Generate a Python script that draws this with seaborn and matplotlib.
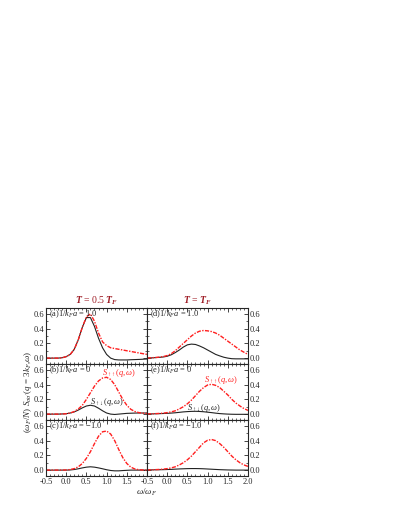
import numpy as np
import pandas as pd
import matplotlib
matplotlib.use("Agg")
import matplotlib.pyplot as plt
import seaborn as sns
from matplotlib.ticker import MultipleLocator

# frequency grid (omega / omega_F)
omega = [-0.5, -0.4, -0.3, -0.2, -0.1, 0.0, 0.1, 0.2, 0.3, 0.4, 0.5, 0.6, 0.7,
         0.8, 0.9, 1.0, 1.1, 1.2, 1.3, 1.4, 1.5, 1.6, 1.7, 1.8, 1.9, 2.0]

# T = 0.5 T_F
a_updown = [0, 0, 0, 0, 0.005, 0.02, 0.05, 0.12, 0.25, 0.42, 0.55, 0.55, 0.43,
            0.27, 0.14, 0.05, 0.0, -0.02, -0.025, -0.025, -0.025, -0.022, -0.02, -0.018, -0.015, -0.012]
a_upup = [0, 0, 0, 0, 0.005, 0.02, 0.05, 0.12, 0.25, 0.42, 0.56, 0.60, 0.50,
          0.34, 0.22, 0.17, 0.14, 0.13, 0.12, 0.11, 0.10, 0.09, 0.08, 0.07, 0.06, 0.05]
b_updown = [0, 0, 0, 0, 0.002, 0.005, 0.015, 0.03, 0.055, 0.085, 0.11, 0.12, 0.11,
            0.08, 0.045, 0.015, 0.0, -0.005, 0.0, 0.005, 0.01, 0.012, 0.014, 0.015, 0.015, 0.015]
b_upup = [0, 0, 0, 0, 0.002, 0.005, 0.015, 0.035, 0.07, 0.12, 0.2, 0.29, 0.38,
          0.45, 0.49, 0.5, 0.47, 0.4, 0.3, 0.2, 0.12, 0.065, 0.035, 0.02, 0.012, 0.008]
c_updown = [0, 0, 0, 0, 0, 0, 0.002, 0.008, 0.018, 0.03, 0.04, 0.045, 0.04,
            0.03, 0.018, 0.005, -0.005, -0.01, -0.01, -0.006, -0.003, 0, 0, 0, 0, 0]
c_upup = [0, 0, 0, 0, 0, 0.002, 0.008, 0.02, 0.045, 0.09, 0.16, 0.25, 0.36,
          0.46, 0.52, 0.53, 0.49, 0.4, 0.28, 0.17, 0.09, 0.04, 0.015, 0.005, 0.002, 0.0]

# T = T_F
d_updown = [0, 0.003, 0.006, 0.01, 0.015, 0.025, 0.045, 0.075, 0.11, 0.15, 0.18, 0.19, 0.185,
            0.165, 0.14, 0.11, 0.08, 0.05, 0.03, 0.012, 0.0, -0.008, -0.01, -0.01, -0.01, -0.01]
d_upup = [0, 0.004, 0.008, 0.013, 0.02, 0.035, 0.06, 0.1, 0.15, 0.2, 0.25, 0.3, 0.34,
          0.365, 0.375, 0.37, 0.36, 0.34, 0.31, 0.27, 0.23, 0.19, 0.15, 0.11, 0.08, 0.05]
e_updown = [0.002, 0.003, 0.004, 0.006, 0.008, 0.01, 0.014, 0.018, 0.024, 0.03, 0.034, 0.037, 0.038,
            0.036, 0.032, 0.026, 0.02, 0.013, 0.007, 0.003, 0.0, -0.002, -0.003, -0.003, -0.003, -0.003]
e_upup = [0.002, 0.004, 0.006, 0.009, 0.013, 0.02, 0.03, 0.045, 0.07, 0.1, 0.14, 0.19, 0.25,
          0.31, 0.36, 0.395, 0.405, 0.39, 0.36, 0.31, 0.26, 0.2, 0.15, 0.11, 0.075, 0.05]
f_updown = [0.002, 0.003, 0.004, 0.005, 0.006, 0.008, 0.01, 0.013, 0.016, 0.018, 0.02, 0.021, 0.021,
            0.02, 0.018, 0.015, 0.012, 0.009, 0.006, 0.004, 0.002, 0.001, 0, 0, 0, 0]
f_upup = [0.002, 0.004, 0.006, 0.009, 0.013, 0.02, 0.03, 0.045, 0.07, 0.1, 0.14, 0.19, 0.25,
          0.31, 0.37, 0.405, 0.415, 0.4, 0.36, 0.31, 0.25, 0.19, 0.14, 0.1, 0.07, 0.05]

panel_labels = ["(a)", "(b)", "(c)", "(d)", "(e)", "(f)"]
coupling = ["1.0", "0", "\u22121.0", "1.0", "0", "\u22121.0"]
titles = [r"$\mathbfit{T}$ = 0.5 $\mathbfit{T}_{\mathbfit{F}}$", r"$\mathbfit{T}$ = $\mathbfit{T}_{\mathbfit{F}}$"]
series = [(a_updown, a_upup), (b_updown, b_upup), (c_updown, c_upup),
          (d_updown, d_upup), (e_updown, e_upup), (f_updown, f_upup)]

sns.set_theme(style="ticks")
plt.rcParams["font.family"] = ["Liberation Serif", "DejaVu Serif"]
plt.rcParams["mathtext.fontset"] = "custom"
plt.rcParams["mathtext.rm"] = "Liberation Serif"
plt.rcParams["mathtext.it"] = "Liberation Serif:italic"
plt.rcParams["mathtext.bf"] = "Liberation Serif:bold"
plt.rcParams["mathtext.bfit"] = "Liberation Serif:italic:bold"
plt.rcParams["axes.linewidth"] = 0.8

fig = plt.figure(figsize=(3.99, 5.16), dpi=100)

left0 = 46 / 399
pw = 101 / 399
ph = 56 / 516
top = 1 - 308 / 516
red = "#ff1f1f"

for i in range(6):
    col = i // 3
    row = i % 3
    ax = fig.add_axes([left0 + col * pw, top - (row + 1) * ph, pw, ph])
    df = pd.DataFrame({"omega": omega, "updown": series[i][0], "upup": series[i][1]})
    sns.lineplot(data=df, x="omega", y="updown", ax=ax, color="#222222", linewidth=0.8)
    sns.lineplot(data=df, x="omega", y="upup", ax=ax, color=red, linewidth=1.0,
                 linestyle=(0, (3, 1, 1, 1)))
    ax.set_xlim(-0.5, 2.0)
    ax.set_ylim(-0.08, 0.68)
    ax.xaxis.set_major_locator(MultipleLocator(0.5))
    ax.xaxis.set_minor_locator(MultipleLocator(0.1))
    ax.yaxis.set_major_locator(MultipleLocator(0.2))
    ax.yaxis.set_minor_locator(MultipleLocator(0.1))
    ax.tick_params(which="both", direction="in", top=True, right=True, labelsize=6, pad=1.5)
    ax.tick_params(which="major", length=3, width=0.6)
    ax.tick_params(which="minor", length=1.5, width=0.5)
    ax.set_xlabel("")
    ax.set_ylabel("")
    if col == 1:
        ax.tick_params(labelleft=False, labelright=True)
    if row < 2:
        ax.tick_params(labelbottom=False)
    else:
        xt = [-0.5, 0.0, 0.5, 1.0, 1.5] if col == 0 else [-0.5, 0.0, 0.5, 1.0, 1.5, 2.0]
        ax.set_xticks(xt)
        ax.set_xticklabels(["%.1f" % v for v in xt])
    ax.text(-0.42, 0.6, panel_labels[i] + r"1/$k_F a$ = " + coupling[i], fontsize=6,
            va="center", ha="left")
    if row == 0:
        ax.set_title(titles[col], fontsize=7, color="#9e1b24", pad=3)
    if i == 1:
        ax.text(0.88, 0.53, r"$S_{\uparrow\uparrow}(q,\omega)$", color=red, fontsize=6)
        ax.text(0.58, 0.14, r"$S_{\uparrow\downarrow}(q,\omega)$", color="#222222", fontsize=6)
    if i == 4:
        ax.text(0.92, 0.43, r"$S_{\uparrow\uparrow}(q,\omega)$", color=red, fontsize=6)
        ax.text(0.5, 0.06, r"$S_{\uparrow\downarrow}(q,\omega)$", color="#222222", fontsize=6)

fig.text(0.07, 1 - 392 / 516, r"($\omega_F$/$N$) $S_{\sigma\sigma'}$($q$ = 3$k_F$,$\omega$)",
         rotation=90, va="center", ha="center", fontsize=6.5)
fig.text(left0 + pw, 1 - 492 / 516, r"$\omega$/$\omega_F$", ha="center", va="center", fontsize=6.5)

plt.savefig("out.png", dpi=100)
